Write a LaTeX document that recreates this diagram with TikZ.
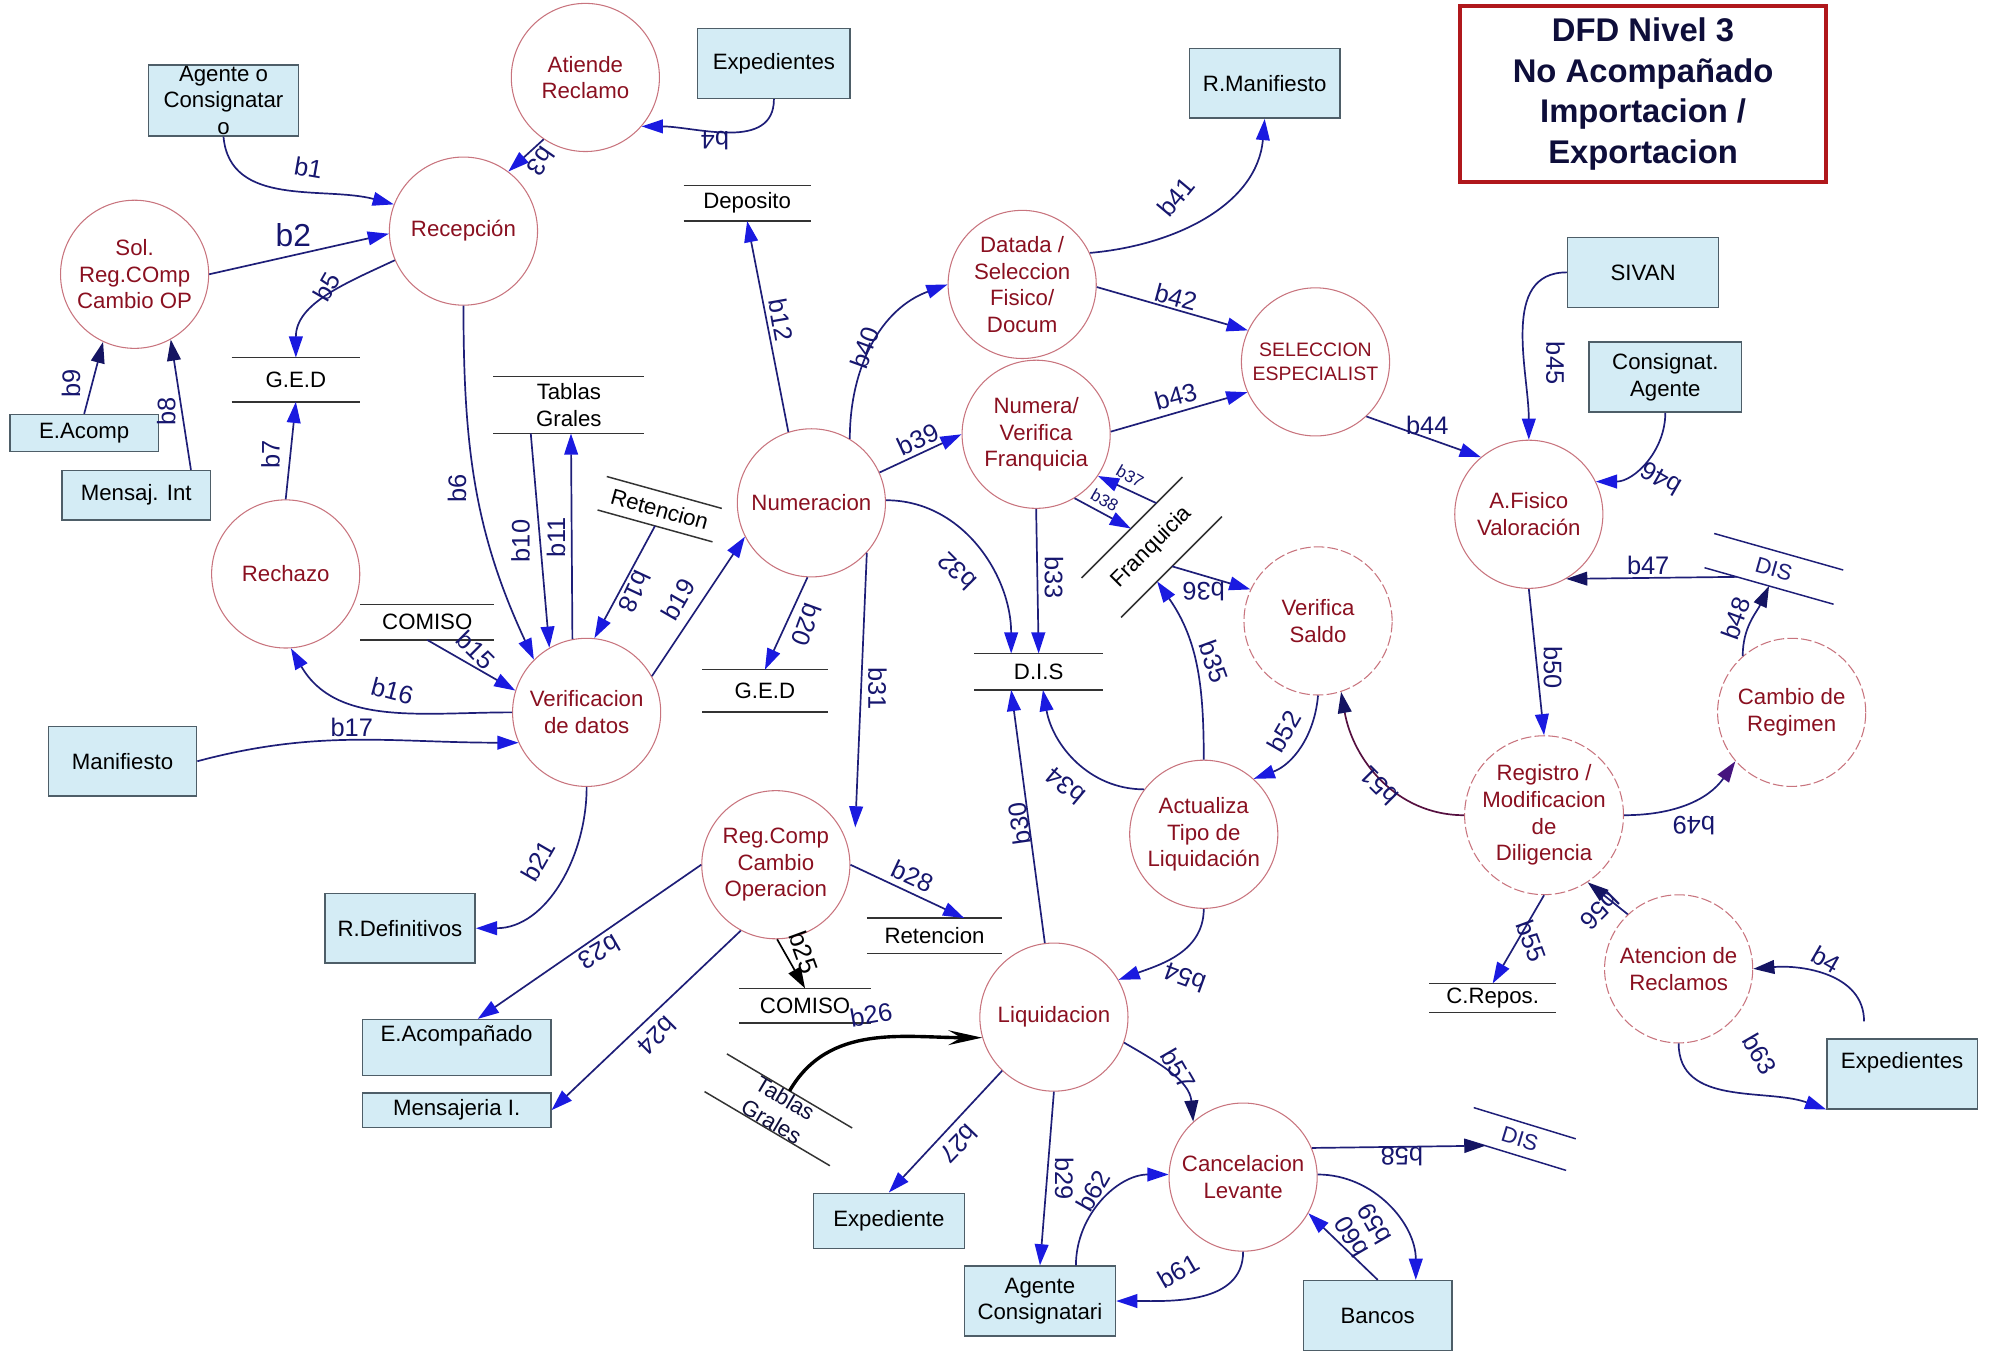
\documentclass[tikz,border=0pt]{standalone}
\usepackage{fontspec}
\setmainfont{Liberation Sans}
\usetikzlibrary{arrows.meta}
\definecolor{procline}{HTML}{C8747E}
\definecolor{proctext}{HTML}{8A1020}
\definecolor{entfill}{HTML}{D4ECF5}
\definecolor{entline}{HTML}{4E5E68}
\definecolor{flowcol}{HTML}{1E1E78}
\definecolor{tipblue}{HTML}{1A1AE0}
\definecolor{tipnavy}{HTML}{141462}
\definecolor{labblue}{HTML}{16166E}
\definecolor{titlered}{HTML}{B0181C}
\definecolor{titletext}{HTML}{0E0E3A}
\definecolor{maroonline}{HTML}{561040}
\definecolor{tippurple}{HTML}{46147E}
\tikzset{
  proceso/.style={circle, draw=procline, line width=0.5pt, minimum size=70pt, inner sep=0pt,
    text=proctext, align=center, font=\fontsize{10.5}{12.6}\selectfont},
  procesod/.style={proceso, dash pattern=on 5pt off 1.5pt},
  entidad/.style={rectangle, draw=entline, fill=entfill, line width=0.7pt, inner sep=0pt,
    align=center, font=\fontsize{10.5}{12.6}\selectfont},
  almacen/.style={inner sep=0pt, align=center, font=\fontsize{10.5}{12.6}\selectfont},
  almline/.style={draw=black!80, line width=0.7pt},
  flujo/.style={draw=flowcol, line width=0.8pt, -{Triangle[length=10pt,width=6.5pt,color=tipblue]}},
  flujon/.style={flujo, -{Triangle[length=10pt,width=6.5pt,color=tipnavy]}},
  etiq/.style={text=labblue, font=\fontsize{12}{14}\selectfont, inner sep=0pt},
  titulo/.style={draw=titlered, line width=1.8pt, minimum width=172.8pt, minimum height=83pt,
    align=center, text=titletext, font=\fontsize{15.5}{19.2}\selectfont\bfseries},
}

\begin{document}
\begin{tikzpicture}[x=0.6pt, y=-0.6pt]

  \newcommand\lineas[2][almline]{\draw[#1] (#2.north west) -- (#2.north east) (#2.south west) -- (#2.south east);}

  \useasboundingbox (0,0) rectangle (1568,1066);

  \node[titulo] (ttl) at (1294,74) {DFD Nivel 3\\No Acompañado\\Importacion /\\Exportacion};

  %% procesos
  \node[proceso] (atr) at (461,61) {Atiende\\Reclamo};
  \node[proceso] (rec) at (365,182) {Recepción};
  \node[proceso] (sol) at (106,216) {Sol.\\Reg.COmp\\Cambio OP};
  \node[proceso] (rech) at (225,452) {Rechazo};
  \node[proceso] (ver) at (462,561) {Verificacion\\de datos};
  \node[proceso] (num) at (639,396) {Numeracion};
  \node[proceso] (dat) at (805,224) {Datada /\\Seleccion\\Fisico/\\Docum};
  \node[proceso] (nvf) at (816,342) {Numera/\\Verifica\\Franquicia};
  \node[proceso, font=\fontsize{9.2}{11.6}\selectfont] (sel) at (1036,285) {SELECCION\\ESPECIALIST};
  \node[proceso] (afis) at (1204,405) {A.Fisico\\Valoración};
  \node[procesod] (vsal) at (1038,489) {Verifica\\Saldo};
  \node[proceso] (act) at (948,657) {Actualiza\\Tipo de\\Liquidación};
  \node[proceso] (rcc) at (611,681) {Reg.Comp\\Cambio\\Operacion};
  \node[proceso] (liq) at (830,801) {Liquidacion};
  \node[proceso] (canc) at (979,927) {Cancelacion\\Levante};
  \node[procesod] (reg) at (1216,642) {Registro /\\Modificacion\\de\\Diligencia};
  \node[procesod] (creg) at (1411,561) {Cambio de\\Regimen};
  \node[procesod] (aten) at (1322,763) {Atencion de\\Reclamos};

  %% entidades externas
  \node[entidad, minimum width=70.8pt, minimum height=33.6pt] (agc) at (176,79) {Agente o\\Consignatar\\o};
  \node[entidad, minimum width=72pt, minimum height=33pt] (exp1) at (609.5,50) {Expedientes};
  \node[entidad, minimum width=71pt, minimum height=33pt] (rman) at (996,65.6) {R.Manifiesto};
  \node[entidad, minimum width=71.4pt, minimum height=33pt] (sivan) at (1294,214.5) {SIVAN};
  \node[entidad, minimum width=72pt, minimum height=33pt] (cagt) at (1311.5,297) {Consignat.\\Agente};
  \node[entidad, minimum width=70pt, minimum height=17.4pt] (eacomp) at (66.3,341) {E.Acomp};
  \node[entidad, minimum width=70pt, minimum height=23.3pt] (mensint) at (107.3,390) {Mensaj. Int};
  \node[entidad, minimum width=70pt, minimum height=33pt] (manif) at (96.5,599.5) {Manifiesto};
  \node[entidad, minimum width=71pt, minimum height=33pt] (rdef) at (315,731) {R.Definitivos};
  \node[entidad, minimum width=89pt, minimum height=26.4pt, text height=8pt, text depth=14pt] (eacompd) at (359.6,825) {E.Acompañado};
  \node[entidad, minimum width=89pt, minimum height=16.4pt] (mensi) at (359.6,874.3) {Mensajeria I.};
  \node[entidad, minimum width=71.4pt, minimum height=26pt] (expd) at (700,961.4) {Expediente};
  \node[entidad, minimum width=71.4pt, minimum height=33pt] (agc2) at (819,1024.6) {Agente\\Consignatari};
  \node[entidad, minimum width=70pt, minimum height=33pt] (bancos) at (1085,1036) {Bancos};
  \node[entidad, minimum width=71pt, minimum height=33pt, text height=8pt, text depth=13pt] (exp2) at (1498,845.7) {Expedientes};

  %% almacenes
  \node[almacen, minimum width=59.6pt, minimum height=16.5pt] (dep) at (588.4,160) {Deposito};
  \node[almacen, minimum width=60.2pt, minimum height=20.5pt] (ged1) at (233,299) {G.E.D};
  \node[almacen, minimum width=70.9pt, minimum height=26.5pt] (tabg1) at (448,319) {Tablas\\Grales};
  \node[almacen, minimum width=63pt, minimum height=16.4pt] (com1) at (336.5,490) {COMISO};
  \node[almacen, minimum width=56pt, minimum height=16pt, rotate=-15.5] (ret1) at (519.5,401) {Retencion};
  \node[almacen, minimum width=59pt, minimum height=19.5pt] (ged2) at (602.4,544) {G.E.D};
  \node[almacen, minimum width=60.6pt, minimum height=16.8pt] (dis) at (818,529) {D.I.S};
  \node[almacen, minimum width=67pt, minimum height=26pt, rotate=45] (fr) at (907,431) {Franquicia};
  \node[almacen, minimum width=63.6pt, minimum height=16.4pt] (ret2) at (736,737) {Retencion};
  \node[almacen, minimum width=61.8pt, minimum height=16pt] (com2) at (634,792) {COMISO};
  \node[almacen, minimum width=68.4pt, minimum height=20.2pt, rotate=-30.6, text=titletext] (tabg2) at (613,874) {Tablas\\Grales};
  \node[almacen, minimum width=59.4pt, minimum height=13.4pt] (crep) at (1175.5,786) {C.Repos.};
  \node[almacen, minimum width=63pt, minimum height=16.4pt, rotate=-15.8, text=flowcol] (dis2) at (1397,448) {DIS};
  \node[almacen, minimum width=50pt, minimum height=15.2pt, rotate=-17, text=flowcol] (dis3) at (1197,897) {DIS};

  \lineas{dep} \lineas{ged1} \lineas{tabg1} \lineas{com1} \lineas{ret1} \lineas{ged2}
  \lineas{dis} \lineas{fr} \lineas{ret2} \lineas{com2} \lineas{tabg2} \lineas{crep}
  \lineas[draw=flowcol, line width=0.7pt]{dis2} \lineas[draw=flowcol, line width=0.7pt]{dis3}

  %% flujos de datos
  \draw[flujo] (agc.south) to[out=-85,in=165] (rec.159) node[etiq, rotate=-10] at (243,132) {b1};
  \draw[flujo] (sol.0) -- (rec.182) node[etiq, font=\fontsize{15}{17}\selectfont] at (231,185) {b2};
  \draw[flujo] (atr.236) -- (rec.53) node[etiq, rotate=-125] at (426,127) {b3};
  \draw[flujo] (exp1.south) to[out=-90,in=0] (atr.-41) node[etiq, rotate=180] at (563,111) {b4};
  \draw[flujo] (rec.203) to[out=205,in=90] (ged1.north) node[etiq, rotate=60] at (257,226) {b5};
  \draw[flujo] (rec.-90) to[out=-90,in=115] (ver.135) node[etiq, rotate=90] at (360,385) {b6};
  \draw[flujo] (rech.north) -- (ged1.south) node[etiq, rotate=90] at (213,358) {b7};
  \draw[flujon] ([xshift=-9.5pt]mensint.north east) -- (sol.-61) node[etiq, rotate=90] at (131,324) {b8};
  \draw[flujon] (eacomp.north) -- (sol.-115) node[etiq, rotate=90] at (56,302) {b9};
  \draw[flujo] ([xshift=-18pt]tabg1.south) -- (ver.120) node[etiq, rotate=90] at (410,426) {b10};
  \draw[flujo] (ver.101) -- ([xshift=1pt]tabg1.south) node[etiq, rotate=90] at (438,423) {b11};
  \draw[flujo] (num.108) -- (dep.south) node[etiq, rotate=-80] at (615,252) {b12};
  \draw[flujo] (com1.south) -- (ver.163) node[etiq, rotate=-45] at (375,512) {b15};
  \draw[flujo] (ver.180) to[out=180,in=-60] (rech.-86) node[etiq, rotate=-15] at (309,544) {b16};
  \draw[flujo] (manif.east) to[out=15,in=180] (ver.204) node[etiq] at (277,573) {b17};
  \draw[flujo] (ret1.south) -- (ver.84) node[etiq, rotate=-115] at (500,466) {b18};
  \draw[flujo] (ver.29) -- (num.207) node[etiq, rotate=60] at (534,472) {b19};
  \draw[flujo] (num.-93) -- (ged2.north) node[etiq, rotate=-110] at (635,492) {b20};
  \draw[flujo] (ver.-90) to[out=-90,in=0] (rdef.east) node[etiq, rotate=60] at (424,678) {b21};
  \draw[flujo] (rcc.180) -- ([xshift=10pt]eacompd.north) node[etiq, rotate=-150] at (472,750) {b23};
  \draw[flujo] (rcc.-118) -- (mensi.east) node[etiq, rotate=-135] at (517,816) {b24};
  \draw[draw=black, line width=0.8pt, -{Triangle[length=10pt,width=6.5pt,color=black]}] (rcc.-89) -- (com2.north)
    node[etiq, text=black, rotate=-70] at (633,750) {b25};
  \draw[draw=black, line width=1.6pt, -{Stealth[length=16pt,width=7pt,inset=6pt,color=black]}] (tabg2.north) to[out=60,in=180] (liq.196)
    node[etiq, rotate=10] at (686,799) {b26};
  \draw[flujo] (liq.226) -- (expd.north) node[etiq, rotate=-134] at (755,901) {b27};
  \draw[flujo] (rcc.0) -- ([xshift=14pt]ret2.north) node[etiq, rotate=-25] at (719,690) {b28};
  \draw[flujo] (liq.-90) -- (agc2.north) node[etiq, rotate=-90] at (838,928) {b29};
  \draw[flujo] (liq.97) -- ([xshift=-13pt]dis.south) node[etiq, rotate=98] at (803,649) {b30};
  \draw[flujo] (num.-42) -- ([xshift=7pt]rcc.30) node[etiq, rotate=-90] at (691,542) {b31};
  \draw[flujo] (num.2) to[out=0,in=90] ([xshift=-13pt]dis.north) node[etiq, rotate=135] at (754,450) {b32};
  \draw[flujo] (nvf.-90) -- (dis.north) node[etiq, rotate=-90] at (830,455) {b33};
  \draw[flujo] (act.143) to[out=180,in=-80] ([xshift=2pt]dis.south) node[etiq, rotate=140] at (839,619) {b34};
  \draw[flujo] (act.90) to[out=90,in=-55] (fr.-126) node[etiq, rotate=-70] at (956,521) {b35};
  \draw[flujo] (fr.-88) -- (vsal.155) node[etiq, rotate=180] at (948,466) {b36};
  \draw[flujo] (fr.39) -- (nvf.-34) node[etiq, font=\fontsize{8}{9}\selectfont, rotate=-30] at (890,375) {b37};
  \draw[flujo] (nvf.-59) -- (fr.93) node[etiq, font=\fontsize{8}{9}\selectfont, rotate=-30] at (870,394) {b38};
  \draw[flujo] (num.24) -- (nvf.180) node[etiq, rotate=25] at (723,346) {b39};
  \draw[flujo] (num.59) to[out=90,in=200] (dat.180) node[etiq, rotate=70] at (681,274) {b40};
  \draw[flujo] (dat.25) to[out=5,in=-95] (rman.south) node[etiq, rotate=50] at (926,155) {b41};
  \draw[flujo] (dat.-2) -- (sel.155) node[etiq, rotate=-15] at (926,234) {b42};
  \draw[flujo] (nvf.2) -- (sel.204) node[etiq, rotate=15] at (926,312) {b43};
  \draw[flujo] (sel.-47) -- (afis.130) node[etiq] at (1124,335) {b44};
  \draw[flujo] (sivan.west) to[out=180,in=90] (afis.90) node[etiq, rotate=-90] at (1225,286) {b45};
  \draw[flujo] (cagt.south) to[out=-90,in=0] (afis.26) node[etiq, rotate=150] at (1308,377) {b46};
  \draw[flujon] (dis2.-152) -- (afis.-60) node[etiq] at (1298,445) {b47};
  \draw[flujon] (creg.131) to[out=90,in=-115] (dis2.south) node[etiq, rotate=70] at (1367,487) {b48};
  \draw[flujo, -{Triangle[length=10pt,width=6.5pt,color=tippurple]}] (reg.0) to[out=0,in=-125] (creg.221)
    node[etiq, rotate=180] at (1334,650) {b49};
  \draw[flujo] (afis.-90) -- (reg.90) node[etiq, rotate=-90] at (1223,526) {b50};
  \draw[flujon, draw=maroonline] (reg.180) to[out=180,in=-80] (vsal.-72) node[etiq, rotate=135] at (1086,619) {b51};
  \draw[flujo] (vsal.-90) to[out=-95,in=20] (act.48) node[etiq, rotate=60] at (1011,576) {b52};
  \draw[flujo] (act.-90) to[out=-90,in=20] (liq.30) node[etiq, rotate=160] at (933,770) {b54};
  \draw[flujo] (reg.-90) -- (crep.north) node[etiq, rotate=-70] at (1206,741) {b55};
  \draw[flujon] (aten.133) -- (reg.-57) node[etiq, rotate=-135] at (1260,717) {b56};
  \draw[flujon] (liq.-20) to[out=-30,in=95] (canc.132) node[etiq, rotate=-60] at (928,842) {b57};
  \draw[flujon] (canc.23) -- (dis3.-152) node[etiq, rotate=180] at (1104,911) {b58};
  \draw[flujo] (canc.2) to[out=0,in=90] ([xshift=18pt]bancos.north) node[etiq, rotate=120] at (1082,964) {b59};
  \draw[flujo] (bancos.north) -- (canc.-29) node[etiq, rotate=120] at (1064,974) {b60};
  \draw[flujo] (canc.-90) to[out=-90,in=0] (agc2.east) node[etiq, rotate=30] at (928,1001) {b61};
  \draw[flujo] ([xshift=17pt]agc2.north) to[out=90,in=180] (canc.178) node[etiq, rotate=60] at (861,938) {b62};
  \draw[flujo] (aten.-90) to[out=-90,in=160] (exp2.south west) node[etiq, rotate=-60] at (1386,830) {b63};
  \draw[flujon] ([xshift=-18pt,yshift=8pt]exp2.north) to[out=90,in=5] (aten.0) node[etiq, rotate=-30] at (1438,756) {b4};

\end{tikzpicture}
\end{document}
